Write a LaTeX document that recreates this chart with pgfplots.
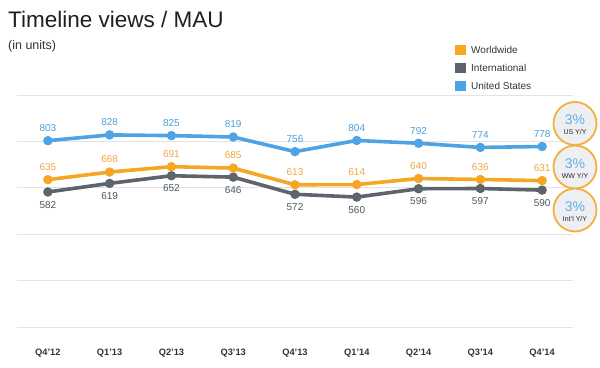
\documentclass[border=0pt]{standalone}
\usepackage{fontspec}
\setmainfont{Liberation Sans}
\usepackage{pgfplots}
\pgfplotsset{compat=1.18}
\definecolor{wwc}{HTML}{F5A623}
\definecolor{intc}{HTML}{5D646C}
\definecolor{usc}{HTML}{4DA3E3}
\definecolor{wwt}{HTML}{F2A541}
\definecolor{intt}{HTML}{50565C}
\definecolor{ust}{HTML}{4A9FDC}
\definecolor{gridc}{HTML}{E3E3E3}
\definecolor{circf}{HTML}{EEEFF3}
\definecolor{circo}{HTML}{F3B03E}
\definecolor{circt}{HTML}{62AEE6}
\begin{document}
\begin{tikzpicture}[x=1pt,y=1pt]
\begin{axis}[
  name=ax,
  scale only axis, width=556pt, height=232pt,
  xmin=-0.5, xmax=8.5, ymin=0, ymax=1000,
  ytick={0,200,...,1000}, yticklabels={},
  ymajorgrids, grid style={gridc, line width=0.8pt},
  axis line style={draw=none}, major tick length=0pt,
  xtick=data,
  xticklabels={Q4'12,Q1'13,Q2'13,Q3'13,Q4'13,Q1'14,Q2'14,Q3'14,Q4'14},
  xticklabel style={font=\bfseries\fontsize{9.3}{10}\selectfont, text=black!80, yshift=-18pt},
  clip=false,
  /pgf/number format/assume math mode=true,
  nodes near coords, point meta=y,
  nodes near coords style={font=\fontsize{10}{12}\selectfont},
]
\addplot[intc, line width=3.6pt, mark=*, mark size=2.8pt,
  nodes near coords style={anchor=north, yshift=-4pt, text=intt}]
  coordinates {(0,582)(1,619)(2,652)(3,646)(4,572)(5,560)(6,596)(7,597)(8,590)};
\addplot[wwc, line width=3.6pt, mark=*, mark size=2.8pt,
  nodes near coords style={anchor=south, yshift=4pt, text=wwt}]
  coordinates {(0,635)(1,668)(2,691)(3,685)(4,613)(5,614)(6,640)(7,636)(8,631)};
\addplot[usc, line width=3.6pt, mark=*, mark size=2.8pt,
  nodes near coords style={anchor=south, yshift=4pt, text=ust}]
  coordinates {(0,803)(1,828)(2,825)(3,819)(4,756)(5,804)(6,792)(7,774)(8,778)};
\end{axis}
\begin{scope}[shift={(ax.south west)}]
\useasboundingbox (-17,-40) rectangle (583,327);
\node[anchor=base west, inner sep=0, font=\fontsize{22.5}{26}\selectfont, text=black!88] at (-9,299) {Timeline views / MAU};
\node[anchor=base west, inner sep=0, font=\fontsize{12.5}{15}\selectfont, text=black!80] at (-9,277.5) {(in units)};
% legend
\fill[wwc] (438,271.5) rectangle (449,282);
\fill[intc] (438,253.5) rectangle (449,264);
\fill[usc] (438,235.5) rectangle (449,246);
\node[anchor=west, inner sep=0, font=\fontsize{10}{12}\selectfont, text=black!80] at (454,277) {Worldwide};
\node[anchor=west, inner sep=0, font=\fontsize{10}{12}\selectfont, text=black!80] at (454,259) {International};
\node[anchor=west, inner sep=0, font=\fontsize{10}{12}\selectfont, text=black!80] at (454,241) {United States};
% Y/Y circles
\foreach \cy/\lab in {203.5/{US Y/Y}, 160/{WW Y/Y}, 117/{Int'l Y/Y}}{
  \draw[circo, fill=circf, line width=1.8pt] (558,\cy) circle (21.5);
  \node[inner sep=0, font=\fontsize{14}{16}\selectfont, text=circt] at (558,\cy+3.5) {3\%};
  \node[inner sep=0, font=\fontsize{7}{8}\selectfont, text=black!85] at (558,\cy-8.5) {\lab};
}
\end{scope}
\end{tikzpicture}
\end{document}
